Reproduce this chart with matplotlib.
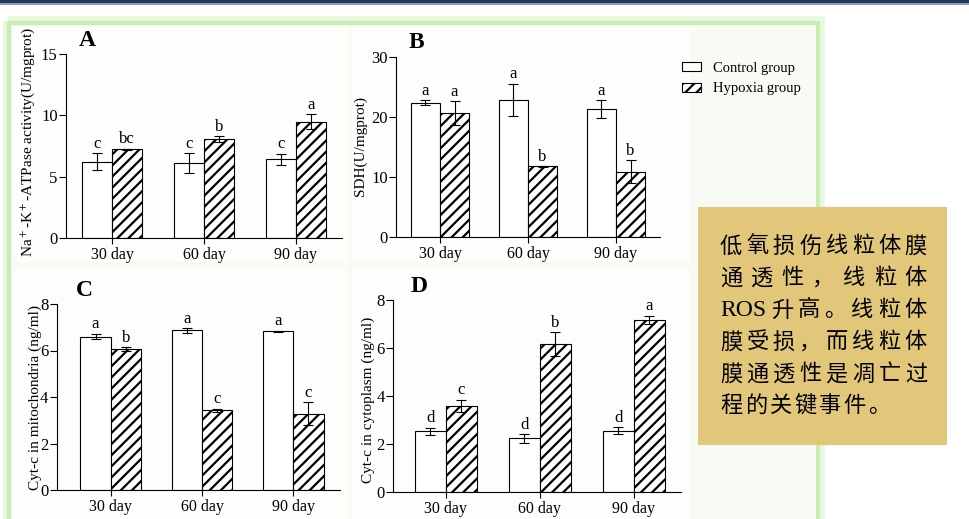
import matplotlib
matplotlib.use('Agg')
import matplotlib.pyplot as plt
from matplotlib.patches import Rectangle, Patch
import numpy as np

plt.rcParams['font.family'] = ['Liberation Serif', 'DejaVu Serif']
plt.rcParams['mathtext.fontset'] = 'stix'
plt.rcParams['hatch.linewidth'] = 1.6
plt.rcParams['axes.linewidth'] = 0.8

# ---------------- data ----------------
days = ['30 day', '60 day', '90 day']

atp_ctrl = [6.25, 6.15, 6.45]
atp_ctrl_err = [0.7, 0.8, 0.45]
atp_hyp = [7.25, 8.05, 9.5]
atp_hyp_err = [0.05, 0.25, 0.6]
atp_ctrl_sig = ['c', 'c', 'c']
atp_hyp_sig = ['bc', 'b', 'a']

sdh_ctrl = [22.3, 22.8, 21.2]
sdh_ctrl_err = [0.4, 2.7, 1.5]
sdh_hyp = [20.6, 11.7, 10.8]
sdh_hyp_err = [2.0, 0.1, 1.9]
sdh_ctrl_sig = ['a', 'a', 'a']
sdh_hyp_sig = ['a', 'b', 'b']

mito_ctrl = [6.6, 6.87, 6.83]
mito_ctrl_err = [0.12, 0.1, 0.03]
mito_hyp = [6.07, 3.43, 3.28]
mito_hyp_err = [0.08, 0.06, 0.5]
mito_ctrl_sig = ['a', 'a', 'a']
mito_hyp_sig = ['b', 'c', 'c']

cyto_ctrl = [2.52, 2.23, 2.55]
cyto_ctrl_err = [0.15, 0.18, 0.15]
cyto_hyp = [3.59, 6.15, 7.17]
cyto_hyp_err = [0.25, 0.5, 0.17]
cyto_ctrl_sig = ['d', 'd', 'd']
cyto_hyp_sig = ['c', 'b', 'a']

note_lines = [
    ['低', '氧', '损', '伤', '线', '粒', '体', '膜'],
    ['通', '透', '性', '，', '线', '粒', '体'],
    ['ROS', '升', '高', '。', '线', '粒', '体'],
    ['膜', '受', '损', '，', '而', '线', '粒', '体'],
    ['膜', '通', '透', '性', '是', '凋', '亡', '过'],
    ['程', '的', '关', '键', '事', '件', '。'],
]

# ---------------- figure ----------------
W, H = 969, 519
fig = plt.figure(figsize=(W / 100, H / 100), dpi=100)
fig.patch.set_facecolor('white')

# background layer in pixel coordinates
bg = fig.add_axes([0, 0, 1, 1])
bg.set_xlim(0, W)
bg.set_ylim(H, 0)
bg.axis('off')
bg.add_patch(Rectangle((0, 0), W, 3, color='#22375a', lw=0))
bg.add_patch(Rectangle((0, 3), W, 1.5, color='#8a9bb5', lw=0))
# green frame with soft glow
bg.add_patch(Rectangle((8, 21), 812, 520, fc='none', ec='#e8f7df', lw=7))
bg.add_patch(Rectangle((9.5, 22.5), 809, 520, fc='#f8faf4', ec='#c8edb3', lw=3))
# white panel backgrounds
for (l, t, r, b) in [(14, 27, 347, 262), (352, 27, 690, 262),
                     (14, 268, 347, 519), (353, 267, 690, 519)]:
    bg.add_patch(Rectangle((l, t), r - l, b - t, color='#fdfefc', lw=0))
# note box
bg.add_patch(Rectangle((698, 207), 249, 238, color='#e2c67a', lw=0))


def px_axes(l, t, r, b):
    return fig.add_axes([l / W, 1 - b / H, (r - l) / W, (b - t) / H])


def draw_panel(ax, ctrl, ctrl_err, hyp, hyp_err, ctrl_sig, hyp_sig,
               xlim, ylim, yticks):
    x = np.arange(len(days)) + 0.5
    w = 0.33
    ax.bar(x - w / 2, ctrl, w, color='white', edgecolor='black', lw=0.8, zorder=2)
    ax.bar(x + w / 2, hyp, w, color='white', edgecolor='black', lw=0.8,
           hatch='///', zorder=2)
    ax.errorbar(x - w / 2, ctrl, yerr=ctrl_err, fmt='none', ecolor='black',
                elinewidth=0.8, capsize=3.5, capthick=0.8, zorder=3)
    ax.errorbar(x + w / 2, hyp, yerr=hyp_err, fmt='none', ecolor='black',
                elinewidth=0.8, capsize=3.5, capthick=0.8, zorder=3)
    for xi, v, e, s in zip(x - w / 2, ctrl, ctrl_err, ctrl_sig):
        ax.annotate(s, (xi, v + e), xytext=(0, 1), textcoords='offset points',
                    ha='center', va='bottom', fontsize=12)
    for xi, v, e, s in zip(x + w / 2, hyp, hyp_err, hyp_sig):
        ax.annotate(s, (xi, v + e), xytext=(0, 1), textcoords='offset points',
                    ha='center', va='bottom', fontsize=12)
    ax.set_xlim(*xlim)
    ax.set_ylim(*ylim)
    ax.set_yticks(yticks)
    ax.set_xticks(x)
    ax.set_xticklabels(days)
    ax.set_facecolor('none')
    for s in ['top', 'right']:
        ax.spines[s].set_visible(False)
    ax.tick_params(axis='y', length=5, width=0.8, pad=1, labelsize=12)
    ax.tick_params(axis='x', length=4, width=0.8, pad=2.5, labelsize=11.5)


axA = px_axes(66, 54, 342, 238.3)
draw_panel(axA, atp_ctrl, atp_ctrl_err, atp_hyp, atp_hyp_err,
           atp_ctrl_sig, atp_hyp_sig, (0, 3), (0, 15), [0, 5, 10, 15])
axB = px_axes(396, 56.7, 660, 236.7)
draw_panel(axB, sdh_ctrl, sdh_ctrl_err, sdh_hyp, sdh_hyp_err,
           sdh_ctrl_sig, sdh_hyp_sig, (0, 3), (0, 30), [0, 10, 20, 30])
axC = px_axes(56.7, 304, 340, 490)
draw_panel(axC, mito_ctrl, mito_ctrl_err, mito_hyp, mito_hyp_err,
           mito_ctrl_sig, mito_hyp_sig, (-0.09, 3.01), (0, 8), [0, 2, 4, 6, 8])
axD = px_axes(393.3, 300, 681, 491.7)
draw_panel(axD, cyto_ctrl, cyto_ctrl_err, cyto_hyp, cyto_hyp_err,
           cyto_ctrl_sig, cyto_hyp_sig, (-0.056, 3.0), (0, 8), [0, 2, 4, 6, 8])

# y labels and panel letters
ylabels = [
    (28, 142, 'Na$^+$-K$^+$-ATPase activity(U/mgprot)'),
    (360, 146, 'SDH(U/mgprot)'),
    (35, 397, 'Cyt-c in mitochondria (ng/ml)'),
    (368, 400, 'Cyt-c in cytoplasm (ng/ml)'),
]
for x, y, s in ylabels:
    fig.text(x / W, 1 - y / H, s, rotation=90, ha='center', va='center', fontsize=11)

for x, y, s in [(87, 41, 'A'), (416, 43, 'B'), (84, 290, 'C'), (419, 287, 'D')]:
    fig.text(x / W, 1 - y / H, s, ha='center', va='center', fontsize=17,
             fontweight='bold')

# legend
handles = [Patch(fc='white', ec='black', lw=0.8, label='Control group'),
           Patch(fc='white', ec='black', lw=0.8, hatch='///', label='Hypoxia group')]
fig.legend(handles=handles, loc='upper left', bbox_to_anchor=(682 / W, 1 - 62 / H),
           frameon=False, fontsize=10.5, handlelength=1.3, handleheight=0.6,
           handletextpad=0.8, labelspacing=0.5, borderpad=0, borderaxespad=0)

# note text, justified line by line
renderer = fig.canvas.get_renderer()
x0, x1 = 720, 927
row_y = [246, 278, 310, 342, 374, 405]
for tokens, y in zip(note_lines, row_y):
    items = []
    for tok in tokens:
        if tok.isascii():
            t = fig.text(0, 1 - y / H, tok, ha='left', va='center', fontsize=17,
                         family=['Liberation Serif'], color='black')
        else:
            t = fig.text(0, 1 - y / H, tok, ha='left', va='center', fontsize=16,
                         family=['Noto Sans CJK SC', 'DejaVu Sans'],
                         fontweight='medium', color='black')
        items.append(t)
    widths = [t.get_window_extent(renderer).width for t in items]
    if tokens is note_lines[-1]:
        gap = 2.5
    else:
        gap = (x1 - x0 - sum(widths)) / (len(items) - 1)
    xp = x0
    for t, wd in zip(items, widths):
        t.set_x(xp / W)
        xp += wd + gap

fig.savefig('out.png', dpi=100)
